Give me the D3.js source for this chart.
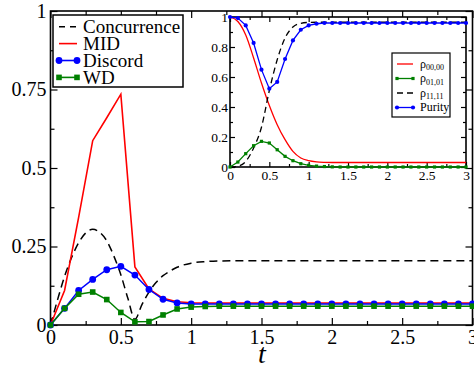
<!DOCTYPE html>
<html>
<head>
<meta charset="utf-8">
<script src="https://cdn.jsdelivr.net/npm/d3@7"></script>
<style>
  body { margin: 0; background: #fff; }
  text { font-family: "Liberation Serif", "Times New Roman", serif; }
</style>
</head>
<body>
<script>
// main panel data
var times = [0,0.1,0.2,0.3,0.4,0.5,0.6,0.7,0.8,0.9,1,1.1,1.2,1.3,1.4,1.5,1.6,1.7,1.8,1.9,2,2.1,2.2,2.3,2.4,2.5,2.6,2.7,2.8,2.9,3]
var discord = [0,0.053,0.11,0.145,0.176,0.187,0.159,0.113,0.082,0.07,0.067,0.067,0.067,0.067,0.067,0.067,0.067,0.067,0.067,0.067,0.067,0.067,0.067,0.067,0.067,0.067,0.067,0.067,0.067,0.067,0.067]
var wd = [0,0.053,0.098,0.105,0.081,0.04,0.01,0.011,0.032,0.051,0.057,0.059,0.06,0.06,0.06,0.06,0.06,0.06,0.06,0.06,0.06,0.06,0.06,0.06,0.06,0.06,0.06,0.06,0.06,0.06,0.06]
var mid = [0,0.11,0.343,0.587,0.66,0.735,0.185,0.115,0.085,0.074,0.071,0.07,0.07,0.07,0.07,0.07,0.07,0.07,0.07,0.07,0.07,0.07,0.07,0.07,0.07,0.07,0.07,0.07,0.07,0.07,0.07]
var concTimes = [0,0.05,0.1,0.15,0.2,0.25,0.3,0.35,0.4,0.45,0.5,0.55,0.6,0.65,0.7,0.75,0.8,0.85,0.9,1,1.1,1.2,1.4,1.6,2,2.5,3]
var concurrence = [0,0.08,0.155,0.215,0.262,0.293,0.305,0.295,0.268,0.22,0.16,0.085,0.018,0.065,0.105,0.135,0.157,0.172,0.184,0.197,0.202,0.204,0.205,0.205,0.205,0.205,0.205]

// inset data
var rho0000 = [1,0.97,0.88,0.727,0.56,0.41,0.282,0.182,0.104,0.06,0.042,0.034,0.031,0.03,0.03,0.03,0.03,0.03,0.03,0.03,0.03,0.03,0.03,0.03,0.03,0.03,0.03,0.03,0.03,0.03,0.03]
var rho0101 = [0,0.033,0.089,0.142,0.171,0.16,0.115,0.071,0.042,0.022,0.011,0.006,0.003,0.001,0,0,0,0,0,0,0,0,0,0,0,0,0,0,0,0,0]
var rho1111 = [0,0.005,0.037,0.127,0.265,0.51,0.715,0.86,0.933,0.958,0.964,0.965,0.965,0.965,0.965,0.965,0.965,0.965,0.965,0.965,0.965,0.965,0.965,0.965,0.965,0.965,0.965,0.965,0.965,0.965,0.965]
var purity = [1,0.993,0.944,0.827,0.649,0.522,0.567,0.72,0.844,0.915,0.944,0.955,0.96,0.96,0.96,0.96,0.96,0.96,0.96,0.96,0.96,0.96,0.96,0.96,0.96,0.96,0.96,0.96,0.96,0.96,0.96]

// ticks
var xMajor = [0,0.5,1,1.5,2,2.5,3]
var xMinor = [0.25,0.75,1.25,1.75,2.25,2.75]
var yMajor = [0,0.25,0.5,0.75,1]
var yMinor = [0.125,0.375,0.625,0.875]
var yInsetMajor = [0,0.2,0.4,0.6,0.8,1]
var yInsetMinor = [0.1,0.3,0.5,0.7,0.9]

var serif = '"Liberation Serif", "Times New Roman", serif'
var screen = {width: 474, height: 370}

var svg = d3.select('body').append('svg')
    .attr('width', screen.width)
    .attr('height', screen.height)
    .attr('font-family', serif)
    .style('display', 'block')

var xScale = d3.scaleLinear().domain([0, 3]).range([50.5, 472.5])
var yScale = d3.scaleLinear().domain([0, 1]).range([325, 11])

// axes helper: inward ticks, no domain path
function drawAxes(g, xs, ys, opt) {
  var x0 = xs.range()[0], x1 = xs.range()[1]
  var y0 = ys.range()[0], y1 = ys.range()[1]
  var fmt = function(d){ return String(d) }

  g.append('g').attr('transform', 'translate(0,' + y0 + ')')
    .call(d3.axisBottom(xs).tickValues(opt.xMajor).tickSize(-opt.major).tickPadding(opt.padX).tickFormat(fmt))
  g.append('g').attr('transform', 'translate(0,' + y0 + ')')
    .call(d3.axisBottom(xs).tickValues(opt.xMinor).tickSize(-opt.minor).tickFormat(''))
  g.append('g').attr('transform', 'translate(0,' + y1 + ')')
    .call(d3.axisTop(xs).tickValues(opt.xMajor).tickSize(-opt.major).tickFormat(''))
  g.append('g').attr('transform', 'translate(0,' + y1 + ')')
    .call(d3.axisTop(xs).tickValues(opt.xMinor).tickSize(-opt.minor).tickFormat(''))

  g.append('g').attr('transform', 'translate(' + x0 + ',0)')
    .call(d3.axisLeft(ys).tickValues(opt.yMajor).tickSize(-opt.major).tickPadding(opt.padY).tickFormat(fmt))
  g.append('g').attr('transform', 'translate(' + x0 + ',0)')
    .call(d3.axisLeft(ys).tickValues(opt.yMinor).tickSize(-opt.minor).tickFormat(''))
  g.append('g').attr('transform', 'translate(' + x1 + ',0)')
    .call(d3.axisRight(ys).tickValues(opt.yMajor).tickSize(-opt.major).tickFormat(''))
  g.append('g').attr('transform', 'translate(' + x1 + ',0)')
    .call(d3.axisRight(ys).tickValues(opt.yMinor).tickSize(-opt.minor).tickFormat(''))

  g.selectAll('.domain').remove()
  g.selectAll('g').attr('font-family', serif).attr('font-size', opt.fontSize)
  g.selectAll('.tick line').attr('stroke', '#000').attr('stroke-width', 1.2)
  g.selectAll('.tick text')
    .attr('fill', '#000')
    .attr('font-family', serif)
    .style('font-family', serif)
    .style('font-size', opt.fontSize + 'px')

  g.append('rect')
    .attr('x', x0).attr('y', y1)
    .attr('width', x1 - x0).attr('height', y0 - y1)
    .attr('fill', 'none').attr('stroke', '#000').attr('stroke-width', 1.6)
}

// main axes
var mainAxes = svg.append('g')
drawAxes(mainAxes, xScale, yScale, {
  xMajor: xMajor, xMinor: xMinor, yMajor: yMajor, yMinor: yMinor,
  major: 7, minor: 4, padX: 5, padY: 4, fontSize: 20
})

svg.append('text')
  .attr('x', 262).attr('y', 363)
  .attr('text-anchor', 'middle')
  .style('font-size', '28px')
  .style('font-style', 'italic')
  .text('t')

// main lines
function series(xs, ys, tArr, vArr, curve) {
  return d3.line()
    .x(function(d, i){ return xs(tArr[i]) })
    .y(function(d){ return ys(d) })
    .curve(curve || d3.curveLinear)(vArr)
}

var plot = svg.append('g')

plot.append('path')
  .attr('d', series(xScale, yScale, concTimes, concurrence, d3.curveMonotoneX))
  .attr('fill', 'none').attr('stroke', '#000').attr('stroke-width', 1.5)
  .attr('stroke-dasharray', '8,5')

plot.append('path')
  .attr('d', series(xScale, yScale, times, mid))
  .attr('fill', 'none').attr('stroke', '#ff0000').attr('stroke-width', 1.6)

plot.append('path')
  .attr('d', series(xScale, yScale, times, discord))
  .attr('fill', 'none').attr('stroke', '#0000ff').attr('stroke-width', 1.5)

plot.selectAll('.dot')
  .data(discord)
  .enter()
  .append('circle')
  .attr('cx', function(d, i){ return xScale(times[i]) })
  .attr('cy', function(d){ return yScale(d) })
  .attr('r', 3.4)
  .attr('fill', '#0000ff')

plot.append('path')
  .attr('d', series(xScale, yScale, times, wd))
  .attr('fill', 'none').attr('stroke', '#008000').attr('stroke-width', 1.5)

plot.selectAll('.sq')
  .data(wd)
  .enter()
  .append('rect')
  .attr('x', function(d, i){ return xScale(times[i]) - 2.8 })
  .attr('y', function(d){ return yScale(d) - 2.8 })
  .attr('width', 5.6).attr('height', 5.6)
  .attr('fill', '#008000')

// main legend
var legend = svg.append('g')
legend.append('rect')
  .attr('x', 53).attr('y', 15).attr('width', 130).attr('height', 72)
  .attr('fill', '#fff').attr('stroke', '#000').attr('stroke-width', 1.5)

var legItems = [
  {name: 'Concurrence', color: '#000', dash: '6,5', marker: null},
  {name: 'MID', color: '#ff0000', dash: null, marker: null},
  {name: 'Discord', color: '#0000ff', dash: null, marker: 'circle'},
  {name: 'WD', color: '#008000', dash: null, marker: 'square'}
]
legItems.forEach(function(d, i){
  var cy = 26.7 + i * 16.9
  legend.append('line')
    .attr('x1', 59).attr('x2', 77).attr('y1', cy).attr('y2', cy)
    .attr('stroke', d.color).attr('stroke-width', 1.6)
    .attr('stroke-dasharray', d.dash)
  if (d.marker == 'circle') {
    [59, 77].forEach(function(x){
      legend.append('circle').attr('cx', x).attr('cy', cy).attr('r', 3.4).attr('fill', d.color)
    })
  } else if (d.marker == 'square') {
    [59, 77].forEach(function(x){
      legend.append('rect').attr('x', x - 2.8).attr('y', cy - 2.8)
        .attr('width', 5.6).attr('height', 5.6).attr('fill', d.color)
    })
  }
  legend.append('text')
    .attr('x', 83).attr('y', cy + 6.5)
    .style('font-size', '19px')
    .text(d.name)
})

// inset
var xInset = d3.scaleLinear().domain([0, 3]).range([230, 466])
var yInset = d3.scaleLinear().domain([0, 1]).range([167, 17])

var inset = svg.append('g')
inset.append('rect')
  .attr('x', 230).attr('y', 17).attr('width', 236).attr('height', 150)
  .attr('fill', '#fff')

drawAxes(inset, xInset, yInset, {
  xMajor: xMajor, xMinor: xMinor, yMajor: yInsetMajor, yMinor: yInsetMinor,
  major: 5, minor: 3, padX: 3, padY: 2, fontSize: 13.5
})

inset.append('path')
  .attr('d', series(xInset, yInset, times, rho0000, d3.curveMonotoneX))
  .attr('fill', 'none').attr('stroke', '#ff0000').attr('stroke-width', 1.3)

inset.append('path')
  .attr('d', series(xInset, yInset, times, rho1111, d3.curveMonotoneX))
  .attr('fill', 'none').attr('stroke', '#000').attr('stroke-width', 1.3)
  .attr('stroke-dasharray', '6,4')

inset.append('path')
  .attr('d', series(xInset, yInset, times, rho0101))
  .attr('fill', 'none').attr('stroke', '#008000').attr('stroke-width', 1.3)

inset.selectAll('.isq')
  .data(rho0101)
  .enter()
  .append('rect')
  .attr('x', function(d, i){ return xInset(times[i]) - 1.6 })
  .attr('y', function(d){ return yInset(d) - 1.6 })
  .attr('width', 3.2).attr('height', 3.2)
  .attr('fill', '#008000')

inset.append('path')
  .attr('d', series(xInset, yInset, times, purity))
  .attr('fill', 'none').attr('stroke', '#0000ff').attr('stroke-width', 1.3)

inset.selectAll('.idot')
  .data(purity)
  .enter()
  .append('circle')
  .attr('cx', function(d, i){ return xInset(times[i]) })
  .attr('cy', function(d){ return yInset(d) })
  .attr('r', 2.1)
  .attr('fill', '#0000ff')

// inset legend
var iLegend = svg.append('g')
iLegend.append('rect')
  .attr('x', 392).attr('y', 53).attr('width', 58).attr('height', 64)
  .attr('fill', '#fff').attr('stroke', '#000').attr('stroke-width', 1.2)

var iItems = [
  {sym: 'ρ', sub: '00,00', color: '#ff0000', dash: null, marker: null},
  {sym: 'ρ', sub: '01,01', color: '#008000', dash: null, marker: 'square'},
  {sym: 'ρ', sub: '11,11', color: '#000', dash: '6,4', marker: null},
  {sym: 'Purity', sub: null, color: '#0000ff', dash: null, marker: 'circle'}
]
iItems.forEach(function(d, i){
  var cy = 64 + i * 14.5
  iLegend.append('line')
    .attr('x1', 397).attr('x2', 413).attr('y1', cy).attr('y2', cy)
    .attr('stroke', d.color).attr('stroke-width', 1.3)
    .attr('stroke-dasharray', d.dash)
  if (d.marker == 'circle') {
    [397, 413].forEach(function(x){
      iLegend.append('circle').attr('cx', x).attr('cy', cy).attr('r', 2.1).attr('fill', d.color)
    })
  } else if (d.marker == 'square') {
    [397, 413].forEach(function(x){
      iLegend.append('rect').attr('x', x - 1.6).attr('y', cy - 1.6)
        .attr('width', 3.2).attr('height', 3.2).attr('fill', d.color)
    })
  }
  var t = iLegend.append('text')
    .attr('x', 420).attr('y', cy + 3.5)
    .style('font-size', '12px')
    .text(d.sym)
  if (d.sub) {
    t.append('tspan')
      .attr('dy', 2.5)
      .style('font-size', '8px')
      .text(d.sub)
  }
})
</script>
</body>
</html>
